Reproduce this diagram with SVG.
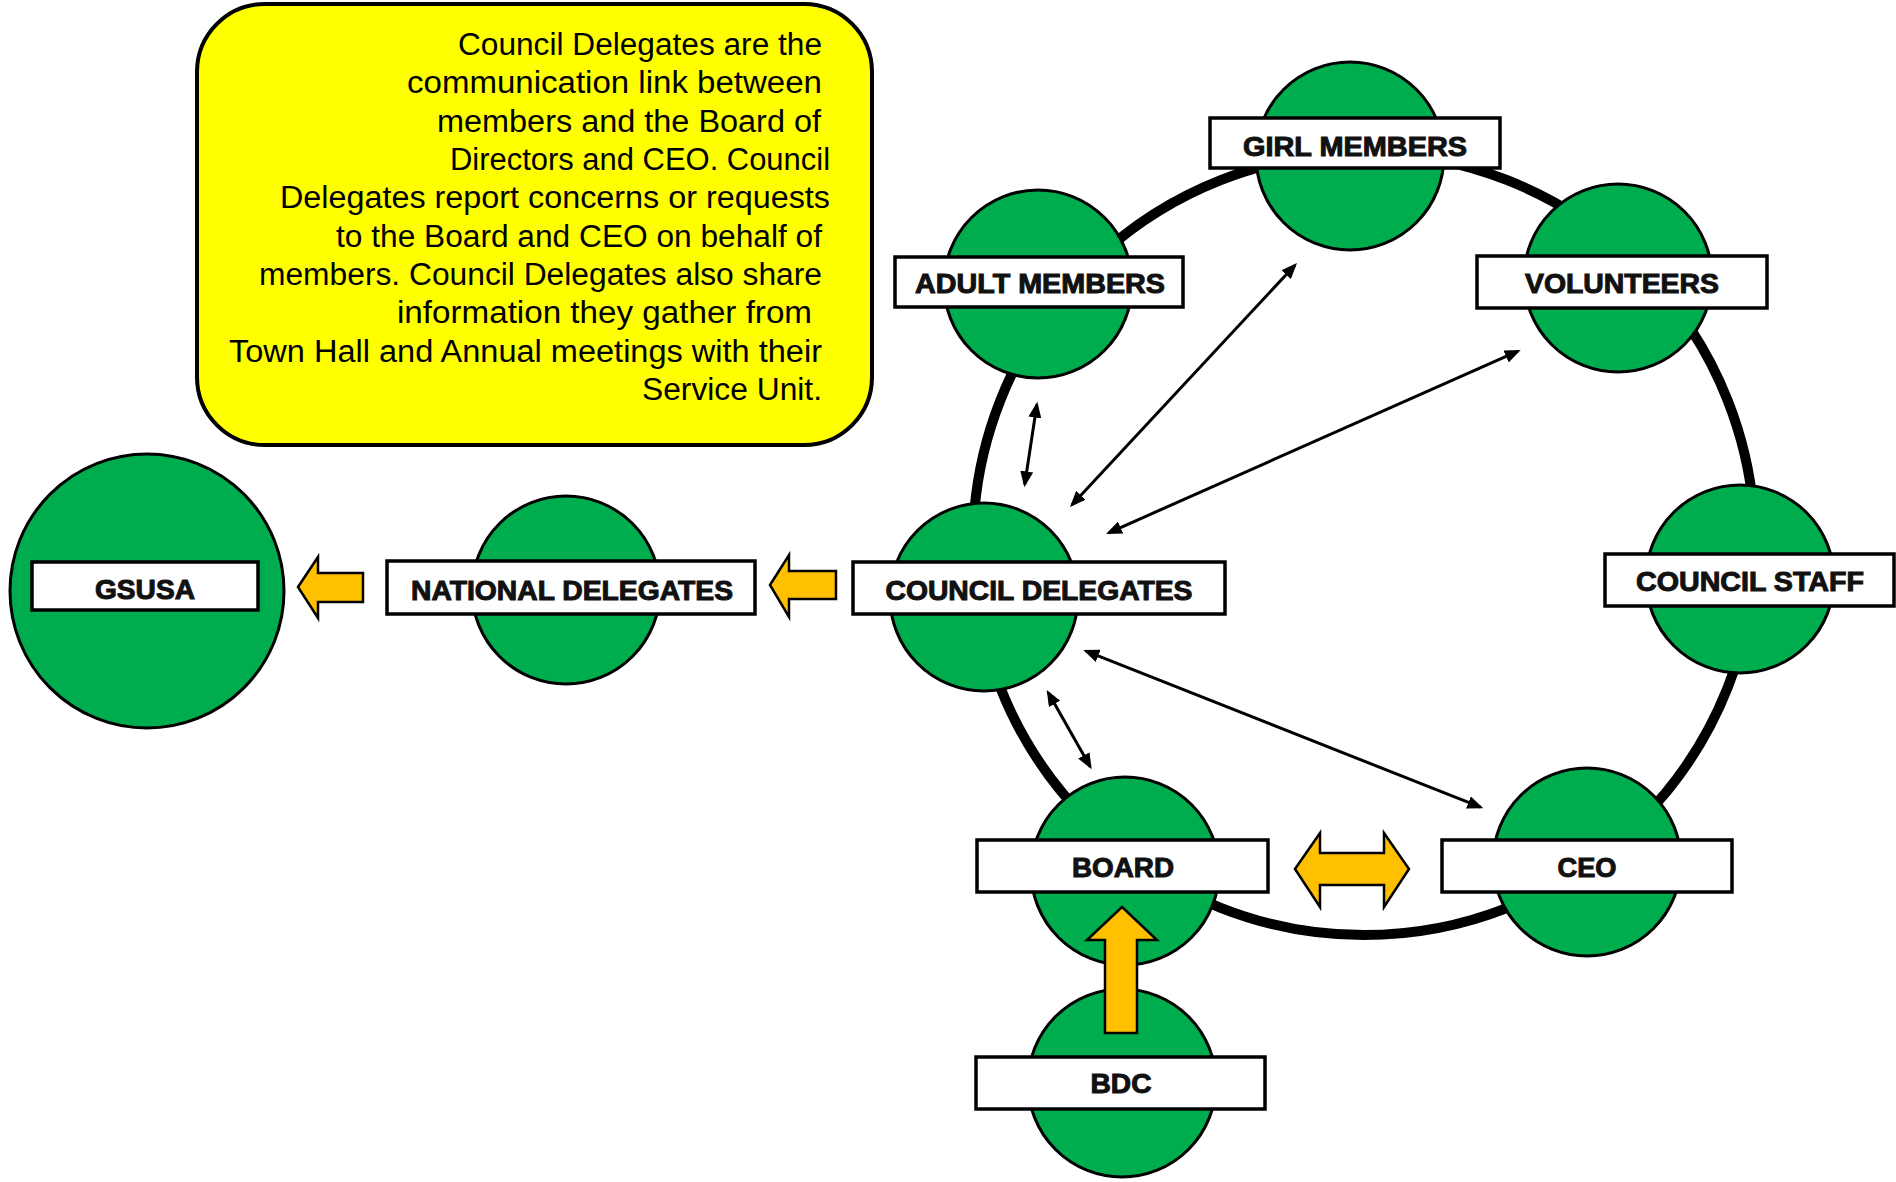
<svg xmlns="http://www.w3.org/2000/svg" width="1896" height="1182" viewBox="0 0 1896 1182">
<defs>
<style>
.bg{fill:#ffffff}
.node{fill:#00AD4E;stroke:#000;stroke-width:3}
.lab{fill:#fff;stroke:#000;stroke-width:3.5}
.lt{font-family:"Liberation Sans",Arial,sans-serif;font-weight:bold;font-size:27px;fill:#111;stroke:#111;stroke-width:1;text-anchor:middle}
.ring{fill:none;stroke:#000;stroke-width:10}
.link{fill:none;stroke:#000;stroke-width:3;marker-start:url(#ah);marker-end:url(#ah)}
.block{fill:#FFC000;stroke:#000;stroke-width:2.5;stroke-linejoin:miter}
.note{fill:#FFFF00;stroke:#000;stroke-width:4}
.nt{font-family:"Liberation Sans",Arial,sans-serif;font-size:31px;fill:#000}
</style>
<marker id="ah" viewBox="0 0 16 13" refX="13" refY="6.5" markerWidth="16" markerHeight="13" markerUnits="userSpaceOnUse" orient="auto-start-reverse">
<path d="M0,0 L16,6.5 L0,13 Z" fill="#000"/>
</marker>
</defs>
<rect class="bg" x="0" y="0" width="1896" height="1182"/>

<g id="callout">
<rect class="note" x="197" y="4" width="675" height="441" rx="68" ry="68"/>
<text class="nt" x="458" y="55" textLength="364" lengthAdjust="spacingAndGlyphs">Council Delegates are the</text>
<text class="nt" x="407" y="93.3" textLength="415" lengthAdjust="spacingAndGlyphs">communication link between</text>
<text class="nt" x="437" y="131.7" textLength="384" lengthAdjust="spacingAndGlyphs">members and the Board of</text>
<text class="nt" x="450" y="170" textLength="380" lengthAdjust="spacingAndGlyphs">Directors and CEO. Council</text>
<text class="nt" x="280" y="208.3" textLength="550" lengthAdjust="spacingAndGlyphs">Delegates report concerns or requests</text>
<text class="nt" x="336" y="246.7" textLength="486" lengthAdjust="spacingAndGlyphs">to the Board and CEO on behalf of</text>
<text class="nt" x="259" y="285" textLength="563" lengthAdjust="spacingAndGlyphs">members. Council Delegates also share</text>
<text class="nt" x="397" y="323.3" textLength="415" lengthAdjust="spacingAndGlyphs">information they gather from</text>
<text class="nt" x="229" y="361.7" textLength="593" lengthAdjust="spacingAndGlyphs">Town Hall and Annual meetings with their</text>
<text class="nt" x="642" y="400" textLength="180" lengthAdjust="spacingAndGlyphs">Service Unit.</text>
</g>

<g id="ring">
<circle class="ring" cx="1364" cy="544" r="391"/>
</g>

<g id="node-girl-members">
<circle class="node" cx="1350" cy="156" r="94"/>
<rect class="lab" x="1210" y="118" width="290" height="50"/>
<text class="lt" x="1355" y="156" textLength="224" lengthAdjust="spacingAndGlyphs">GIRL MEMBERS</text>
</g>
<g id="node-adult-members">
<circle class="node" cx="1038" cy="284" r="94"/>
<rect class="lab" x="895" y="257" width="288" height="50"/>
<text class="lt" x="1040" y="293" textLength="250" lengthAdjust="spacingAndGlyphs">ADULT MEMBERS</text>
</g>
<g id="node-volunteers">
<circle class="node" cx="1618" cy="278" r="94"/>
<rect class="lab" x="1477" y="256" width="290" height="52"/>
<text class="lt" x="1622" y="293" textLength="194" lengthAdjust="spacingAndGlyphs">VOLUNTEERS</text>
</g>
<g id="node-council-staff">
<circle class="node" cx="1740" cy="579" r="94"/>
<rect class="lab" x="1605" y="554" width="289" height="52"/>
<text class="lt" x="1750" y="591" textLength="228" lengthAdjust="spacingAndGlyphs">COUNCIL STAFF</text>
</g>
<g id="node-council-delegates">
<circle class="node" cx="984" cy="597" r="94"/>
<rect class="lab" x="853" y="562" width="372" height="52"/>
<text class="lt" x="1039" y="600" textLength="307" lengthAdjust="spacingAndGlyphs">COUNCIL DELEGATES</text>
</g>
<g id="node-national-delegates">
<circle class="node" cx="566" cy="590" r="94"/>
<rect class="lab" x="387" y="561" width="368" height="53"/>
<text class="lt" x="572" y="600" textLength="322" lengthAdjust="spacingAndGlyphs">NATIONAL DELEGATES</text>
</g>
<g id="node-gsusa">
<circle class="node" cx="147" cy="591" r="137"/>
<rect class="lab" x="32" y="562" width="226" height="48"/>
<text class="lt" x="145" y="599" textLength="100" lengthAdjust="spacingAndGlyphs">GSUSA</text>
</g>
<g id="node-board">
<circle class="node" cx="1125" cy="871" r="94"/>
<rect class="lab" x="977" y="840" width="291" height="52"/>
<text class="lt" x="1123" y="877" textLength="102" lengthAdjust="spacingAndGlyphs">BOARD</text>
</g>
<g id="node-ceo">
<circle class="node" cx="1587" cy="862" r="94"/>
<rect class="lab" x="1442" y="840" width="290" height="52"/>
<text class="lt" x="1587" y="877" textLength="59" lengthAdjust="spacingAndGlyphs">CEO</text>
</g>
<g id="node-bdc">
<circle class="node" cx="1122" cy="1083" r="94"/>
<rect class="lab" x="976" y="1057" width="289" height="52"/>
<text class="lt" x="1121" y="1093" textLength="61" lengthAdjust="spacingAndGlyphs">BDC</text>
</g>

<g id="connectors">
<line class="link" x1="1036.85" y1="404.66" x2="1024.75" y2="484.34"/>
<line class="link" x1="1294.96" y1="265.2" x2="1072.04" y2="504.8"/>
<line class="link" x1="1517.96" y1="351.22" x2="1108.74" y2="532.78"/>
<line class="link" x1="1048.18" y1="692.6" x2="1090.22" y2="766.7"/>
<line class="link" x1="1086.09" y1="651.1" x2="1480.51" y2="807.2"/>
<path class="block" d="M298,587 L318,557 L318,573 L363,573 L363,602 L318,602 L318,618 Z"/>
<path class="block" d="M770,585 L789,555 L789,571 L836,571 L836,599 L789,599 L789,617 Z"/>
<path class="block" d="M1295,869 L1320,833 L1320,853 L1384,853 L1384,833 L1409,869 L1384,907 L1384,885 L1320,885 L1320,907 Z"/>
<path class="block" d="M1122,907 L1157,940 L1137,940 L1137,1033 L1105,1033 L1105,940 L1087,940 Z"/>
</g>
</svg>
